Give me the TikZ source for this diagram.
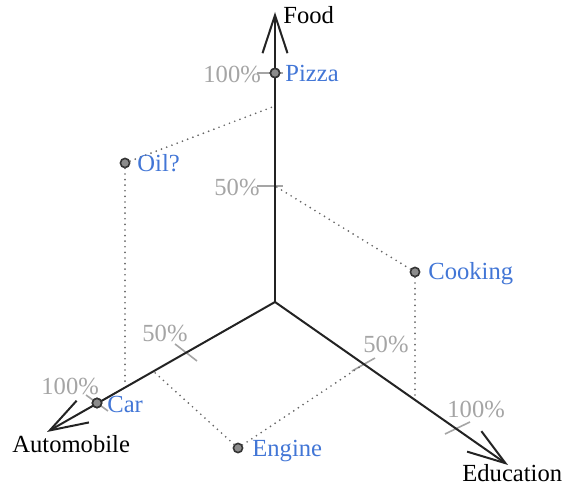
\documentclass[tikz,border=0pt]{standalone}
\usepackage{fontspec}
\setmainfont{Liberation Serif}
\usetikzlibrary{arrows.meta}
\definecolor{lblue}{RGB}{66,118,214}
\definecolor{lgray}{RGB}{165,165,165}
\definecolor{axc}{RGB}{35,35,35}
\begin{document}
\begin{tikzpicture}[x=0.5pt,y=-0.5pt,
  axis/.style={draw=axc,line width=1pt,-{Straight Barb[length=19pt,width=12.5pt]}},
  tickline/.style={draw=lgray,line width=0.8pt},
  guide/.style={draw=black!60,line width=0.95pt,line cap=round,dash pattern=on 0pt off 2.8pt},
  pt/.style={circle,draw=black!80,fill=black!45,line width=0.8pt,inner sep=0pt,minimum size=4.6pt},
  txt/.style={anchor=base west,inner sep=0pt,font=\fontsize{12.3pt}{14pt}\selectfont},
  ptlabel/.style={txt,text=lblue},
  ticklabel/.style={txt,text=lgray},
  axlabel/.style={txt,text=black}]
\useasboundingbox (0,0) rectangle (563,485);
% axes
\coordinate (O) at (275,302);
\coordinate (Ftip) at (275,12);
\coordinate (Atip) at (47,432);
\coordinate (Etip) at (508,465);
% axis marks
\coordinate (F50) at (275,186);
\coordinate (F100) at (275,73);
\coordinate (A50) at (186,352);
\coordinate (A100) at (97,403);
\coordinate (E50) at (364,364);
\coordinate (E100) at (457,428);
% guide ends
\coordinate (OilF) at (275,106);
\coordinate (OilA) at (125,386);
\coordinate (CookE) at (415,398);
\coordinate (EngA) at (153,371);
% ticks
\coordinate (tf1a) at (257,186); \coordinate (tf1b) at (283,186);
\coordinate (tf2a) at (257,73);  \coordinate (tf2b) at (283,73);
\coordinate (ta1a) at (175,344); \coordinate (ta1b) at (197,361);
\coordinate (ta2a) at (86,395);  \coordinate (ta2b) at (108,411);
\coordinate (te1a) at (352,371); \coordinate (te1b) at (375,358);
\coordinate (te2a) at (445,434); \coordinate (te2b) at (470,422);
\draw[tickline] (tf1a) -- (tf1b);
\draw[tickline] (tf2a) -- (tf2b);
\draw[tickline] (ta1a) -- (ta1b);
\draw[tickline] (ta2a) -- (ta2b);
\draw[tickline] (te1a) -- (te1b);
\draw[tickline] (te2a) -- (te2b);
% points
\node[pt] (pizza) at (F100) {};
\node[pt] (car) at (A100) {};
\node[pt] (oil) at (125,163) {};
\node[pt] (cooking) at (415,272) {};
\node[pt] (engine) at (238,448) {};
% guides
\draw[guide] (oil) -- (OilF);
\draw[guide] (oil) -- (OilA);
\draw[guide] (cooking) -- (F50);
\draw[guide] (cooking) -- (CookE);
\draw[guide] (engine) -- (EngA);
\draw[guide] (engine) -- (E50);
% axes on top
\draw[axis] (O) -- (Ftip);
\draw[axis] (O) -- (Atip);
\draw[axis] (O) -- (Etip);
\node[pt] at (F100) {};
\node[pt] at (A100) {};
% labels
\node[axlabel] (lfood) at (283,24) {Food};
\node[axlabel] (lauto) at (12,453) {Automobile};
\node[axlabel] (ledu) at (462,482) {Education};
\node[ptlabel] (lpizza) at (285,82) {Pizza};
\node[ptlabel] (loil) at (137,172) {Oil?};
\node[ptlabel] (lcook) at (428,280) {Cooking};
\node[ptlabel] (lcar) at (107,413) {Car};
\node[ptlabel] (leng) at (252,457) {Engine};
\node[ticklabel] (lf100) at (203,83) {100\%};
\node[ticklabel] (lf50) at (214,196) {50\%};
\node[ticklabel] (la50) at (142,342) {50\%};
\node[ticklabel] (la100) at (41,395) {100\%};
\node[ticklabel] (le50) at (363,353) {50\%};
\node[ticklabel] (le100) at (447,418) {100\%};
\end{tikzpicture}
\end{document}
